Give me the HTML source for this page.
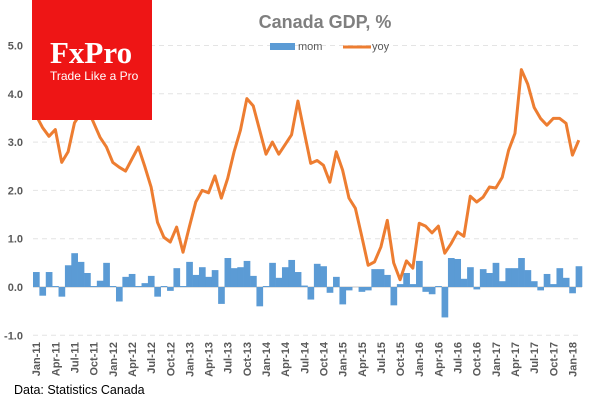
<!DOCTYPE html>
<html><head><meta charset="utf-8"><style>
body{margin:0;background:#fff;}
svg text{font-family:"Liberation Sans",sans-serif;}
</style></head><body>
<svg id="chart" width="600" height="400" xmlns="http://www.w3.org/2000/svg">
<rect width="600" height="400" fill="#fff"/>
<g id="grid"></g>
<g id="bars"></g>
<g id="line"></g>
<g id="xlabels"></g>
<g id="ylabels"></g>
<text x="325" y="28" text-anchor="middle" font-size="18" font-weight="bold" fill="#7f7f7f">Canada  GDP, %</text>
<g>
<rect x="270" y="43" width="25" height="7" fill="#5b9bd5"/>
<text x="298" y="50" font-size="11" fill="#595959">mom</text>
<line x1="343" y1="47" x2="371" y2="47" stroke="#ed7d31" stroke-width="3"/>
<text x="372" y="50" font-size="11" fill="#595959">yoy</text>
</g>
<g>
<rect x="32" y="0" width="120" height="120" fill="#ee1515"/>
<text x="50" y="63" font-size="31" font-weight="bold" fill="#fff" style="font-family:'Liberation Serif',serif">FxPro</text>
<text x="50" y="80" font-size="12" fill="#fff">Trade Like a Pro</text>
</g>
<text x="14" y="394" font-size="12.5" fill="#000">Data: Statistics Canada</text>
</svg>
<script>
const months=["Jan","Feb","Mar","Apr","May","Jun","Jul","Aug","Sep","Oct","Nov","Dec"];
const mom=[0.31,-0.18,0.31,0.02,-0.2,0.45,0.7,0.52,0.29,0.02,0.13,0.5,0.02,-0.3,0.21,0.27,0.02,0.08,0.23,-0.2,0.02,-0.08,0.39,0.02,0.52,0.25,0.41,0.21,0.35,-0.35,0.6,0.39,0.41,0.54,0.23,-0.4,0.02,0.5,0.19,0.41,0.56,0.31,0.03,-0.26,0.48,0.43,-0.12,0.21,-0.36,-0.07,0.0,-0.1,-0.07,0.37,0.37,0.25,-0.38,0.06,0.29,0.06,0.54,-0.1,-0.15,0.02,-0.63,0.6,0.58,0.17,0.41,-0.05,0.37,0.29,0.5,0.12,0.39,0.39,0.6,0.35,0.12,-0.07,0.27,0.06,0.39,0.19,-0.13,0.43];
const yoy=[3.55,3.3,3.12,3.26,2.58,2.8,3.4,3.6,3.7,3.4,3.1,2.9,2.58,2.48,2.4,2.65,2.9,2.5,2.07,1.34,1.03,0.93,1.24,0.72,1.25,1.76,2.0,1.95,2.3,1.84,2.25,2.8,3.25,3.9,3.75,3.25,2.75,3.0,2.75,2.95,3.15,3.85,3.2,2.56,2.62,2.52,2.17,2.8,2.42,1.84,1.63,1.05,0.45,0.52,0.83,1.38,0.5,0.15,0.54,0.39,1.32,1.26,1.12,1.26,0.7,0.9,1.14,1.05,1.88,1.76,1.86,2.07,2.05,2.27,2.83,3.18,4.5,4.2,3.72,3.49,3.35,3.49,3.49,3.39,2.73,3.04];
const yTicks=[-1,0,1,2,3,4,5];
const NS="http://www.w3.org/2000/svg";
const x0=33,x1=582,n=mom.length,bw=(x1-x0)/n;
const xc=i=>x0+bw*(i+0.5);
const y=v=>287-v*48.3;
function mk(tag,attrs,parent){const e=document.createElementNS(NS,tag);for(const k in attrs)e.setAttribute(k,attrs[k]);document.getElementById(parent).appendChild(e);return e;}
yTicks.forEach(t=>{
 const g=mk("line",{x1:x0,x2:x1,y1:y(t),y2:y(t),stroke:t===0?"#d9d9d9":"#e4e4e4","stroke-width":t===0?1.5:1,"stroke-dasharray":t===0?"":"5,4"},"grid");
 
 
 const l=mk("text",{x:23,y:y(t)+4,"text-anchor":"end","font-size":11,"font-weight":"bold",fill:"#595959"},"ylabels");
 l.textContent=t.toFixed(1);
 
 
});
mom.forEach((v,i)=>{
 const b=mk("rect",{x:x0+bw*i,width:bw+0.3,y:Math.min(y(v),y(0)),height:Math.abs(y(v)-y(0)),fill:"#5b9bd5"},"bars");
 
 
});
const p=mk("polyline",{points:yoy.map((v,i)=>xc(i)+","+y(v)).join(" "),fill:"none",stroke:"#ed7d31","stroke-width":3,"stroke-linejoin":"round"},"line");


for(let i=0;i<n;i+=3){
 const yr=String(11+Math.floor(i/12));
 const t=mk("text",{x:0,y:0,"text-anchor":"end","font-size":11,"font-weight":"bold",fill:"#595959",transform:`translate(${xc(i)+4},342) rotate(-90)`},"xlabels");
 t.textContent=months[i%12]+"-"+yr;
 
 
}
</script>
</body></html>
